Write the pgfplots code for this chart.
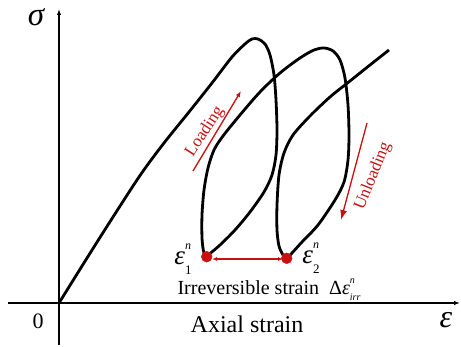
\documentclass[border=0pt]{standalone}
\usepackage{fontspec}
\setmainfont{Liberation Serif}
\usepackage{pgfplots}
\pgfplotsset{compat=1.18}
\usetikzlibrary{arrows.meta}
\definecolor{myred}{RGB}{200,16,16}
\newcommand{\fs}[1]{\fontsize{#1}{#1}\selectfont}
\begin{document}
\begin{tikzpicture}
\path[use as bounding box] (0,0) rectangle (461pt,347pt);
\begin{axis}[at={(0,0)}, anchor=south west, scale only axis,
  width=461pt, height=347pt, xmin=-59, xmax=402, ymin=-44, ymax=303,
  hide axis, clip=false]
% axes
\addplot[black, line width=1.3pt, -{Latex[length=6pt,width=4.5pt]}] coordinates {(-51,0) (401,0)};
\addplot[black, line width=1.3pt, -{Latex[length=6pt,width=4.5pt]}] coordinates {(0,-42) (0,294)};
% irreversible strain arrow
\addplot[myred, line width=1.3pt, {Latex[length=5pt,width=4pt]}-{Latex[length=5pt,width=4pt]}] coordinates {(153,44) (224,44)};
% red points
\addplot[only marks, mark=*, mark size=5.4pt, myred] coordinates {(147.7,46.3) (227.7,44.7)};
% curve
\addplot[black, line width=2.8pt, smooth, tension=0.5] coordinates {
(0,0) (40,64) (80,126) (105,160) (130,191) (153,220) (173,246)
(186,259) (193,264) (199,264) (206,259) (211,248) (215,228) (217,203) (218,173)
(217,148) (213,128) (205,111) (191,91) (176,73) (161,58) (151,49.5)
(147,46.5) (144.5,52) (143,65) (143,88) (145,113) (149,135) (155,153)
(164,167) (181,188) (201,211) (221,230) (241,245) (255,253) (265,255)
(274,252) (281,243) (286,225) (289,198) (290,168) (289,143) (285,121)
(276,103) (259,78) (243,61) (233,50) (228,45) (224,48) (220,57) (218,73)
(218,98) (220,128) (225,150) (234,168) (251,187) (271,206) (291,222)
(311,238) (330,253)};
% loading / unloading arrows
\addplot[myred, line width=1.3pt, -{Latex[length=6pt,width=4.5pt]}] coordinates {(134,132) (182,212)};
\addplot[myred, line width=1.3pt, -{Latex[length=10pt,width=7pt]}] coordinates {(308,180) (282,83)};
% labels
\node[font=\fs{33}\itshape] at (axis cs:-23,286) {σ};
\node[font=\fs{32}\itshape] at (axis cs:387,-17) {ε};
\node[font=\fs{22}] at (axis cs:-21,-18) {0};
\node[font=\fs{24}] at (axis cs:188,-21) {Axial strain};
\node[font=\fs{20}] at (axis cs:210,15) {Irreversible strain\enspace Δ{\itshape ε}\rlap{\smash{\raisebox{0.55em}{\fs{10}\itshape n}}}\smash{\raisebox{-0.3em}{\fs{10}\itshape irr}}};
\node[font=\fs{17}, text=myred, rotate=57] at (axis cs:146,171.5) {Loading};
\node[font=\fs{17}, text=myred, rotate=68] at (axis cs:314,127) {Unloading};
\node[font=\fs{27}] at (axis cs:124,44.5) {{\itshape ε}\rlap{\smash{\raisebox{0.55em}{\fs{12}\itshape n}}}\rlap{\smash{\raisebox{-0.35em}{\fs{13}1}}}\phantom{\fs{13}1}};
\node[font=\fs{27}] at (axis cs:252,45.5) {{\itshape ε}\rlap{\smash{\raisebox{0.55em}{\fs{12}\itshape n}}}\rlap{\smash{\raisebox{-0.35em}{\fs{13}2}}}\phantom{\fs{13}2}};
\end{axis}
\end{tikzpicture}
\end{document}
